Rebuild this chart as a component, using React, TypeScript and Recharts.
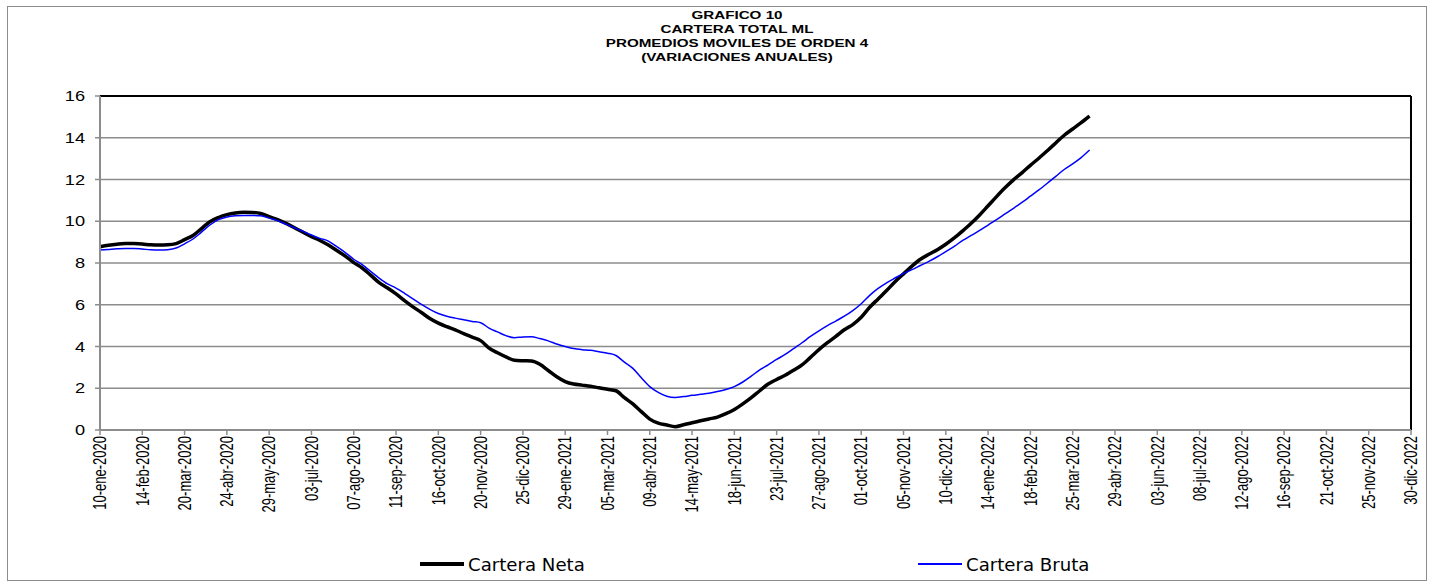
import { CartesianGrid, Line, LineChart, ReferenceLine, XAxis, YAxis } from "recharts";

// weekly observations, one tick label every 5 weeks
const tickLabels = [
	"10-ene-2020", "14-feb-2020", "20-mar-2020", "24-abr-2020", "29-may-2020", "03-jul-2020",
	"07-ago-2020", "11-sep-2020", "16-oct-2020", "20-nov-2020", "25-dic-2020", "29-ene-2021",
	"05-mar-2021", "09-abr-2021", "14-may-2021", "18-jun-2021", "23-jul-2021", "27-ago-2021",
	"01-oct-2021", "05-nov-2021", "10-dic-2021", "14-ene-2022", "18-feb-2022", "25-mar-2022",
	"29-abr-2022", "03-jun-2022", "08-jul-2022", "12-ago-2022", "16-sep-2022", "21-oct-2022",
	"25-nov-2022", "30-dic-2022",
];

const carteraNeta = [
	8.78, 8.85, 8.9, 8.93, 8.93, 8.91, 8.87, 8.86, 8.87, 8.93,
	9.12, 9.32, 9.65, 9.98, 10.18, 10.32, 10.4, 10.43, 10.42, 10.37,
	10.22, 10.08, 9.9, 9.69, 9.47, 9.26, 9.08, 8.86, 8.6, 8.33,
	8.02, 7.76, 7.42, 7.06, 6.8, 6.52, 6.2, 5.9, 5.63, 5.34,
	5.12, 4.95, 4.8, 4.62, 4.45, 4.28, 3.92, 3.7, 3.5, 3.34,
	3.32, 3.31, 3.15, 2.85, 2.55, 2.32, 2.2, 2.15, 2.1, 2.02,
	1.95, 1.88, 1.55, 1.25, 0.88, 0.52, 0.33, 0.24, 0.16, 0.25,
	0.35, 0.44, 0.53, 0.62, 0.78, 0.98, 1.25, 1.55, 1.88, 2.2,
	2.42, 2.62, 2.86, 3.12, 3.48, 3.85, 4.18, 4.48, 4.8, 5.05,
	5.4, 5.88, 6.28, 6.68, 7.1, 7.48, 7.85, 8.18, 8.42, 8.64,
	8.9, 9.2, 9.54, 9.9, 10.3, 10.74, 11.18, 11.6, 11.98, 12.32,
	12.68, 13.02, 13.38, 13.75, 14.12, 14.42, 14.72, 15.04,
];

const carteraBruta = [
	8.62, 8.65, 8.68, 8.7, 8.7, 8.67, 8.63, 8.62, 8.64, 8.72,
	8.92, 9.15, 9.48, 9.82, 10.08, 10.2, 10.26, 10.28, 10.28, 10.26,
	10.15, 10.03, 9.86, 9.69, 9.52, 9.34, 9.18, 9.05, 8.78, 8.5,
	8.18, 7.92, 7.6, 7.28, 7.0, 6.8, 6.55, 6.28, 6.02, 5.78,
	5.58, 5.45, 5.36, 5.28, 5.2, 5.14, 4.88, 4.7, 4.52, 4.42,
	4.46, 4.47, 4.38, 4.27, 4.12, 4.0, 3.9, 3.85, 3.82, 3.75,
	3.68, 3.57, 3.25, 2.95, 2.5, 2.08, 1.8, 1.62, 1.56, 1.6,
	1.66, 1.71, 1.76, 1.84, 1.94, 2.08, 2.3, 2.58, 2.88, 3.12,
	3.38, 3.62, 3.9, 4.18, 4.48, 4.75, 5.0, 5.22, 5.45, 5.72,
	6.05, 6.45, 6.78, 7.05, 7.28, 7.5, 7.68, 7.88, 8.08, 8.3,
	8.55, 8.8, 9.08, 9.32, 9.56, 9.82, 10.08, 10.35, 10.62, 10.9,
	11.2, 11.5, 11.82, 12.15, 12.48, 12.75, 13.05, 13.41,
];

const yTicks = [0, 2, 4, 6, 8, 10, 12, 14, 16];
const titleLines = ["GRAFICO 10", "CARTERA TOTAL ML", "PROMEDIOS MOVILES DE ORDEN 4", "(VARIACIONES ANUALES)"];

const data = carteraNeta.map((v, i) => ({ week: i, neta: v, bruta: carteraBruta[i] }));
const weekTicks = tickLabels.map((_, k) => k * 5);

const ARIAL = "'Liberation Sans', Arial, sans-serif";
const NARROW = "'Liberation Sans Narrow', 'DejaVu Sans Condensed', 'Liberation Sans', sans-serif";

const XTick = ({ x, y, payload }: any) => (
	<g transform={`translate(${x},${y - 1}) scale(1.35,1) rotate(-90)`}>
		<text x={0} y={0} textAnchor="end" dominantBaseline="central" fontSize={13} fontFamily={ARIAL} fill="#000">
			{tickLabels[Math.round(payload.value / 5)]}
		</text>
	</g>
);

const YTick = ({ x, y, payload }: any) => (
	<g transform={`translate(${x},${y}) scale(1.3,1)`}>
		<text x={0} y={0} textAnchor="end" dominantBaseline="central" fontSize={14} fontFamily={ARIAL} fill="#000">
			{payload.value}
		</text>
	</g>
);

const legendItems = [
	{ name: "Cartera Neta", color: "#000", width: 3.5, left: 413 },
	{ name: "Cartera Bruta", color: "#0000ff", width: 1.5, left: 911 },
];

export default function App() {
	return (
		<div style={{ position: "absolute", left: 7, top: 6, width: 1420, height: 575, background: "#fff" }}>
			<div style={{ position: "absolute", inset: 0, border: "1px solid #8c8c8c" }} />
			<div
				style={{
					position: "absolute",
					left: 430,
					top: 2,
					width: 600,
					textAlign: "center",
					fontFamily: ARIAL,
					fontWeight: "bold",
					fontSize: 11.5,
					lineHeight: "14px",
					transform: "scaleX(1.32)",
				}}
			>
				{titleLines.map((t) => (
					<div key={t}>{t}</div>
				))}
			</div>
			<div style={{ position: "absolute", left: 0, top: 0 }}>
				<LineChart width={1420} height={575} data={data} margin={{ top: 90, right: 16, bottom: 61, left: 33 }}>
					<CartesianGrid vertical={false} stroke="#8c8c8c" strokeWidth={1.5} />
					<XAxis
						dataKey="week"
						type="number"
						domain={[0, 155]}
						ticks={weekTicks}
						interval={0}
						height={90}
						tick={<XTick />}
						tickSize={5}
						tickMargin={2}
						axisLine={{ stroke: "#8c8c8c", strokeWidth: 2 }}
						tickLine={{ stroke: "#8c8c8c", strokeWidth: 1.5 }}
					/>
					<YAxis
						domain={[0, 16]}
						ticks={yTicks}
						interval={0}
						width={60}
						tick={<YTick />}
						tickSize={5}
						tickMargin={10}
						axisLine={{ stroke: "#8c8c8c", strokeWidth: 2 }}
						tickLine={{ stroke: "#8c8c8c", strokeWidth: 1.5 }}
					/>
					<ReferenceLine y={16} stroke="#000" strokeWidth={2} />
					<ReferenceLine x={155} stroke="#000" strokeWidth={2} />
					<Line
						dataKey="neta"
						type="monotone"
						stroke="#000"
						strokeWidth={3.5}
						dot={false}
						isAnimationActive={false}
					/>
					<Line
						dataKey="bruta"
						type="monotone"
						stroke="#0000ff"
						strokeWidth={1.5}
						dot={false}
						isAnimationActive={false}
					/>
				</LineChart>
			</div>
			{legendItems.map((it) => (
				<div key={it.name} style={{ position: "absolute", left: it.left, top: 546, height: 24, display: "flex", alignItems: "center" }}>
					<div style={{ width: 44, height: it.width, background: it.color }} />
					<span
						style={{
							marginLeft: 4,
							fontFamily: NARROW,
							fontSize: 18,
							transform: "scaleX(1.12)",
							transformOrigin: "left center",
							whiteSpace: "nowrap",
						}}
					>
						{it.name}
					</span>
				</div>
			))}
		</div>
	);
}
